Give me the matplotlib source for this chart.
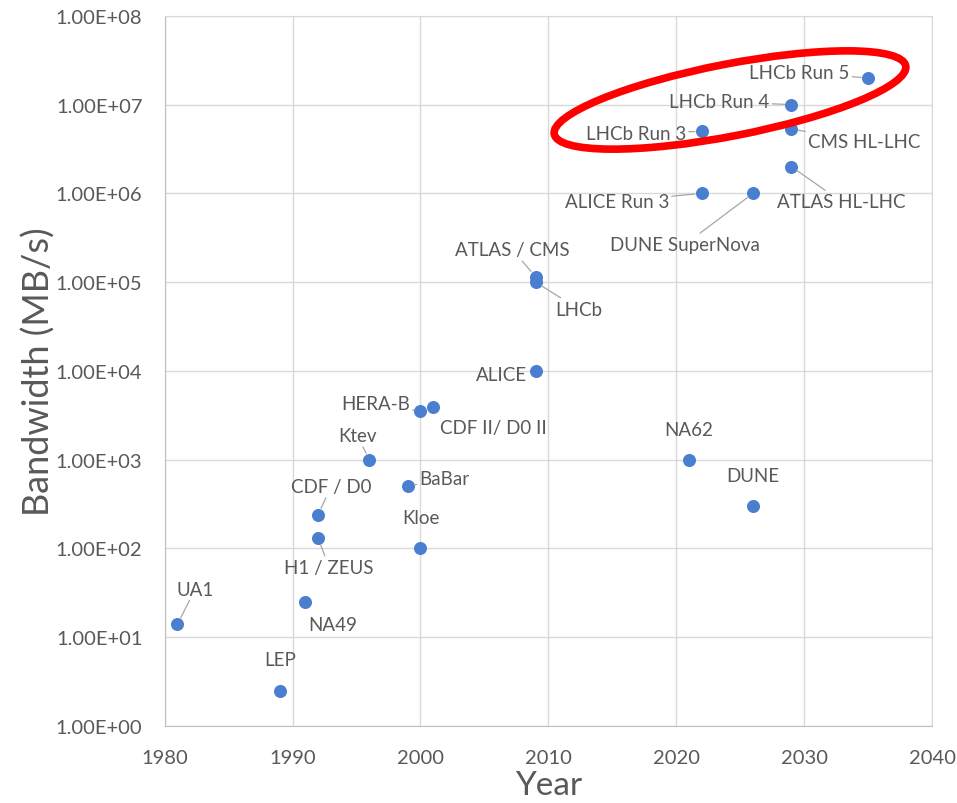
import matplotlib

matplotlib.use("Agg")
import matplotlib.pyplot as plt
from matplotlib.patches import Ellipse
from matplotlib.ticker import FuncFormatter, LogLocator, NullFormatter
from matplotlib.transforms import IdentityTransform

labels = [
    "UA1", "LEP", "NA49", "H1 / ZEUS", "CDF / D0", "Ktev", "BaBar", "Kloe",
    "HERA-B", "CDF II/ D0 II", "ALICE", "ATLAS / CMS", "LHCb", "NA62", "DUNE",
    "ALICE Run 3", "DUNE SuperNova", "ATLAS HL-LHC", "CMS HL-LHC",
    "LHCb Run 3", "LHCb Run 4", "LHCb Run 5",
]
years = [1981, 1989, 1991, 1992, 1992, 1996, 1999, 2000, 2000, 2001, 2009,
         2009, 2009, 2021, 2026, 2022, 2026, 2029, 2029, 2022, 2029, 2035]
bandwidth = [14, 2.5, 25, 130, 240, 1000, 500, 100, 3500, 3900, 1e4,
             1.15e5, 1e5, 1000, 300, 1e6, 1e6, 2e6, 5.3e6, 5e6, 1e7, 2e7]

# label offsets in pixels (dx, dy), and whether a leader line is drawn
offsets = {
    "UA1": (18, 35, True), "LEP": (0, 31, False), "NA49": (27, -23, False),
    "H1 / ZEUS": (11, -29, True), "CDF / D0": (13, 28, True),
    "Ktev": (-12, 24, True), "BaBar": (37, 8, True), "Kloe": (0, 31, False),
    "HERA-B": (-45, 8, True), "CDF II/ D0 II": (60, -20, False),
    "ALICE": (-34, -4, False), "ATLAS / CMS": (-23, 27, True),
    "LHCb": (43, -27, True), "NA62": (0, 30, False), "DUNE": (0, 30, False),
    "ALICE Run 3": (-85, -8, True), "DUNE SuperNova": (-68, -51, True),
    "ATLAS HL-LHC": (50, -35, True), "CMS HL-LHC": (73, -12, True),
    "LHCb Run 3": (-66, -2, True), "LHCb Run 4": (-72, 3, True),
    "LHCb Run 5": (-69, 5, True),
}

text_color = "#595959"
grid_color = "#d9d9d9"
plt.rcParams["font.family"] = ["Lato", "DejaVu Sans"]

fig = plt.figure(figsize=(9.57, 8.04), dpi=100)
ax = fig.add_axes([0.172, 0.096, 0.802, 0.883])

ax.scatter(years, bandwidth, s=70, color="#4a7fd0", zorder=3)

ax.set_yscale("log")
ax.set_ylim(1, 1e8)
ax.set_xlim(1980, 2040)
ax.set_xticks(range(1980, 2041, 10))
ax.yaxis.set_major_locator(LogLocator(base=10, numticks=20))
ax.yaxis.set_minor_locator(LogLocator(base=10, subs=[], numticks=20))
ax.yaxis.set_minor_formatter(NullFormatter())
ax.yaxis.set_major_formatter(FuncFormatter(lambda v, p: f"{v:.2E}"))
ax.yaxis.offsetText.set_visible(False)
ax.xaxis.offsetText.set_visible(False)

ax.grid(True, color=grid_color, linewidth=1)
ax.set_axisbelow(True)
for s in ax.spines.values():
    s.set_color(grid_color)
ax.spines["left"].set_color("#bfbfbf")
ax.spines["bottom"].set_color("#bfbfbf")
ax.tick_params(axis="both", length=0, labelsize=14.5, labelcolor=text_color)
ax.tick_params(axis="y", pad=16)
ax.tick_params(axis="x", pad=17)

ax.set_xlabel("Year", fontsize=24, color=text_color)
ax.xaxis.set_label_coords(0.5, -0.062)
ax.set_ylabel("Bandwidth (MB/s)", fontsize=26, color=text_color)
ax.yaxis.set_label_coords(-0.142, 0.5)

for name, x, y in zip(labels, years, bandwidth):
    dx, dy, line = offsets[name]
    arrow = None
    if line:
        arrow = dict(arrowstyle="-", color="#a6a6a6", lw=0.9,
                     shrinkA=0, shrinkB=5)
    ax.annotate(name, xy=(x, y), xytext=(dx, dy), textcoords="offset pixels",
                ha="center", va="center", fontsize=13.5, color=text_color,
                arrowprops=arrow, zorder=4)

# red ellipse around the LHCb upgrade points
ell = Ellipse((730, 804 - 101), width=358, height=72, angle=11,
              transform=IdentityTransform(), fill=False,
              edgecolor="#ff0000", linewidth=5.5, zorder=5)
fig.patches.append(ell)

fig.savefig("out.png", dpi=100)
